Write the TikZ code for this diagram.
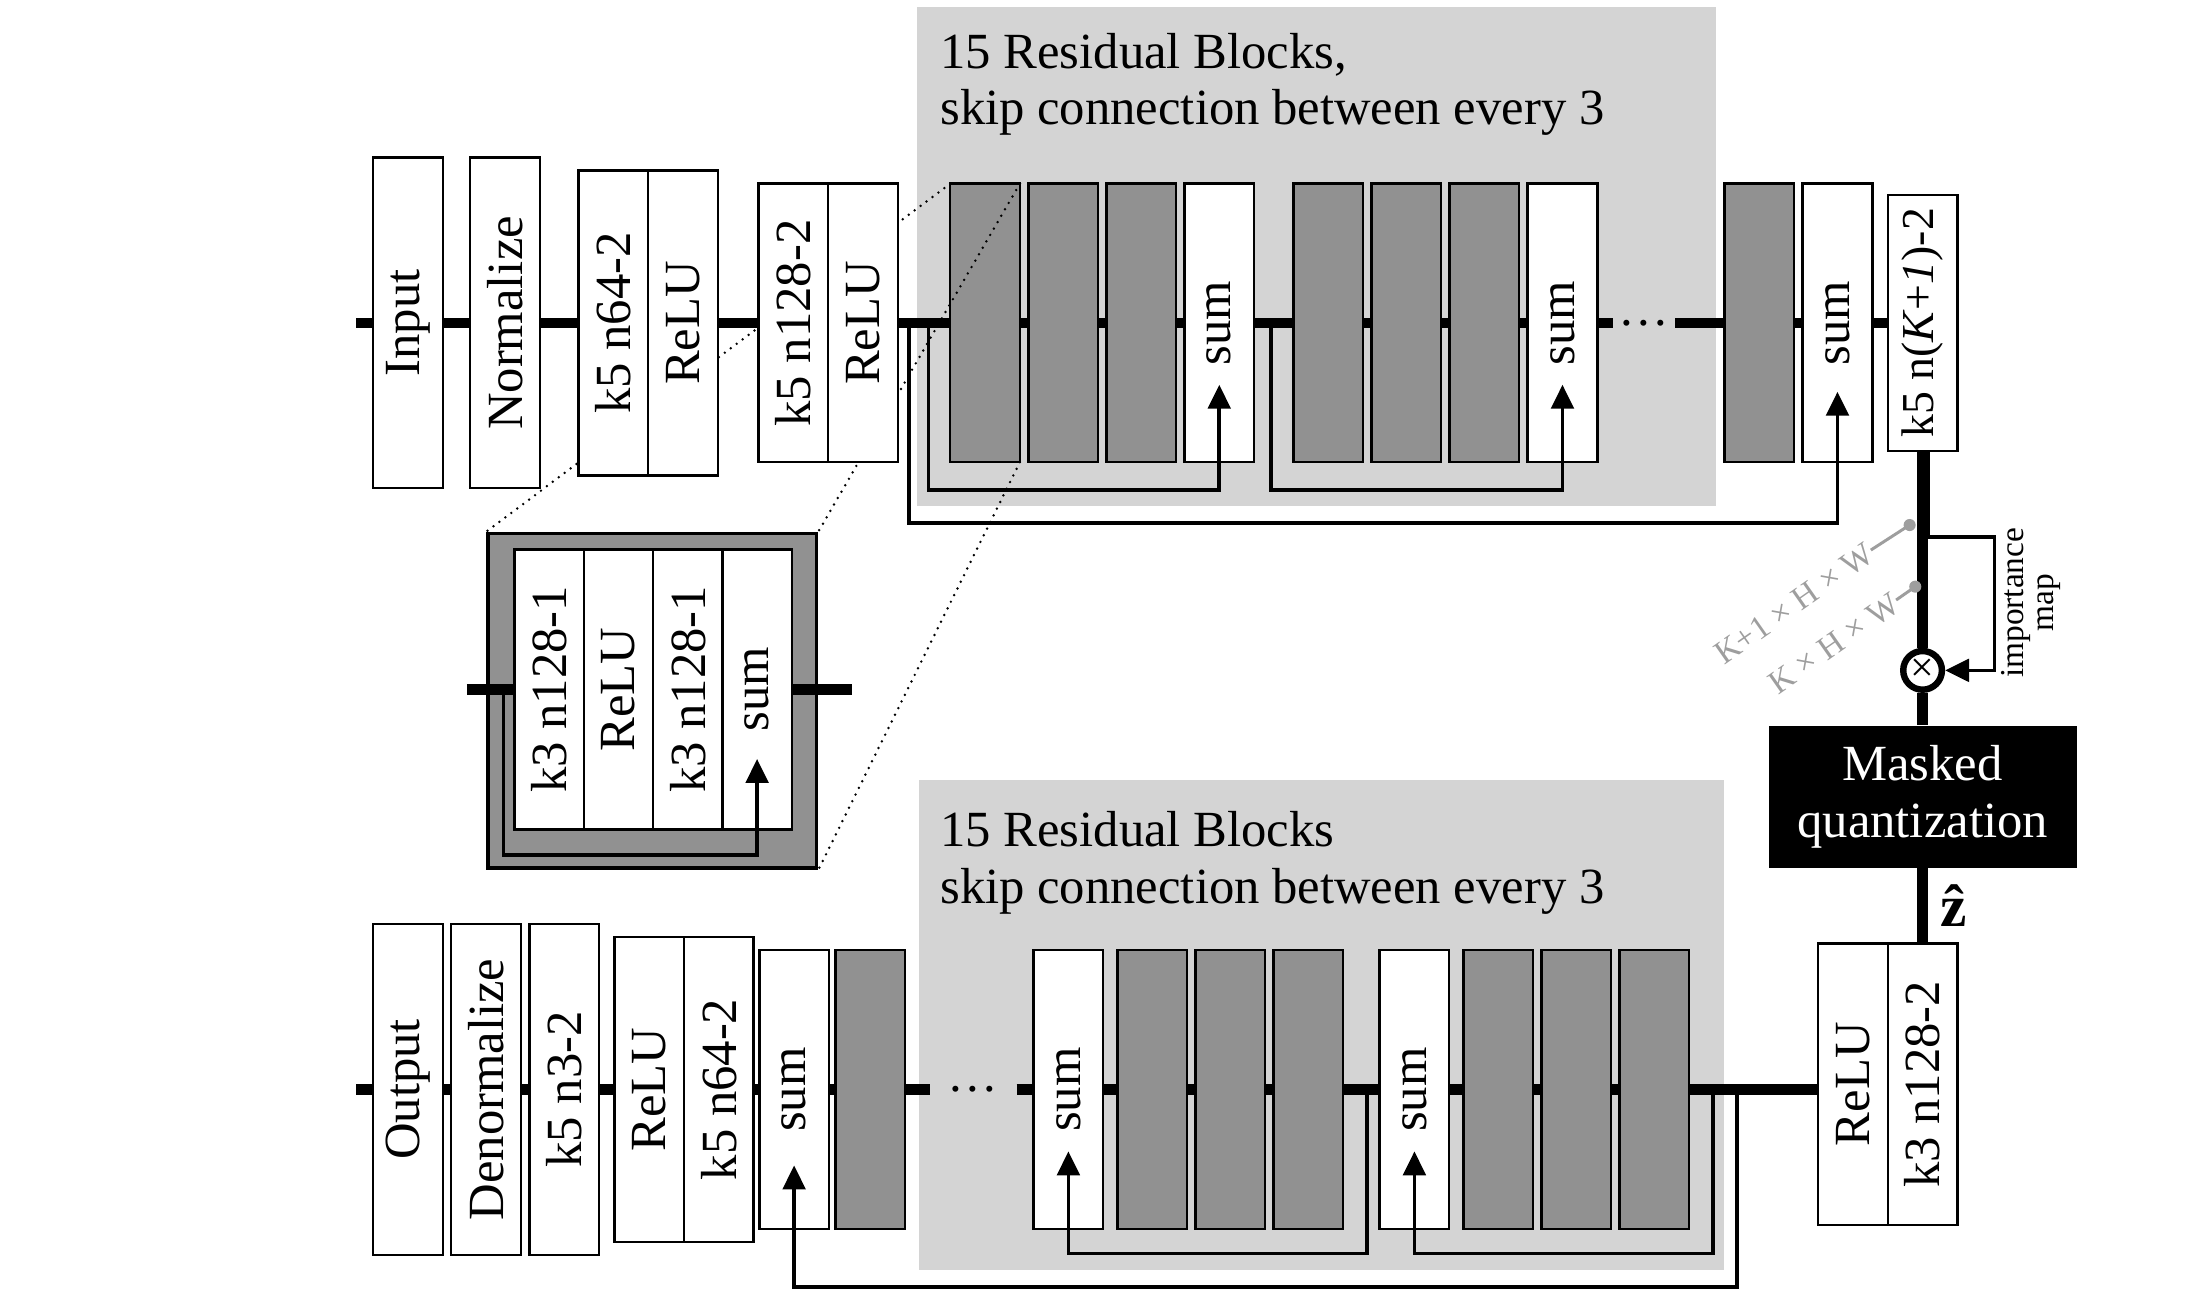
\documentclass[tikz,border=0pt]{standalone}
\usepackage{fontspec}
\setmainfont{Liberation Serif}
\usepackage{graphicx}
\usetikzlibrary{positioning,calc,arrows.meta,backgrounds}

\definecolor{regiongray}{HTML}{D4D4D4}
\definecolor{resgray}{HTML}{919191}
\definecolor{dimgray}{HTML}{9E9E9E}

\newcommand{\vlab}[1]{\rotatebox{90}{#1}}
\newcommand{\bigfont}{\fontsize{20.5}{22.8}\selectfont}

\tikzset{
  block/.style={draw, fill=white, line width=1pt, minimum width=0.99cm,
    minimum height=3.96cm, inner sep=0pt, outer sep=0pt, font=\bigfont},
  tallblock/.style={block, minimum height=4.7cm},
  midblock/.style={block, minimum height=4.34cm},
  resblock/.style={block, fill=resgray},
  insetblock/.style={block, minimum width=0.985cm, minimum height=3.98cm},
  gapdots/.style={inner sep=0pt, outer sep=0pt, font=\bigfont},
  mainline/.style={line width=4.2pt},
  skipline/.style={line width=1.5pt, -{Triangle[length=0.34cm, width=0.32cm]}},
  zoomline/.style={line width=1.1pt, line cap=round, dash pattern=on 0pt off 3pt},
  grouptitle/.style={anchor=north west, align=left, inner sep=0pt, font=\bigfont},
  maskbox/.style={fill=black, text=white, minimum width=4.38cm,
    minimum height=2.02cm, align=center, inner sep=0pt, font=\bigfont},
  multnode/.style={circle, draw, line width=2.6pt, fill=white, minimum size=0.55cm,
    inner sep=0pt, font=\fontsize{17}{17}\selectfont},
  dimlabel/.style={text=dimgray, font=\fontsize{13.5}{13.5}\selectfont,
    inner sep=0pt, rotate=35, anchor=east},
}

\begin{document}
\begin{tikzpicture}[x=0.02cm, y=0.02cm]
  \useasboundingbox (0,0) rectangle (1568,-923);

  % encoder row
  \node[tallblock] (input) at (290,-229.5) {\vlab{Input}};
  \node[tallblock, right=0.39cm of input] (norm) {\vlab{Normalize}};
  \node[midblock, right=0.55cm of norm] (enca) {\vlab{k5 n64-2}};
  \node[midblock, right=0pt of enca] (relua) {\vlab{ReLU}};
  \node[block, right=0.58cm of relua] (encb) {\vlab{k5 n128-2}};
  \node[block, right=0pt of encb] (relub) {\vlab{ReLU}};
  \node[resblock, right=0.745cm of relub] (r1) {};
  \node[resblock, right=0.12cm of r1] (r2) {};
  \node[resblock, right=0.12cm of r2] (r3) {};
  \node[block, right=0.12cm of r3] (s1) {\vlab{sum}};
  \node[resblock, right=0.56cm of s1] (r4) {};
  \node[resblock, right=0.12cm of r4] (r5) {};
  \node[resblock, right=0.12cm of r5] (r6) {};
  \node[block, right=0.12cm of r6] (s2) {\vlab{sum}};
  \node[gapdots, minimum width=0.89cm, right=0.22cm of s2] (gapa) {\dots};
  \node[resblock, right=0.7cm of gapa] (r7) {};
  \node[block, right=0.12cm of r7] (s3) {\vlab{sum}};
  \node[block, minimum height=3.64cm, right=0.22cm of s3,
    font=\fontsize{18.5}{20}\selectfont] (zconv) {\vlab{k5 n(\textit{K}+\textit{1})-2}};

  % bottleneck
  \node[multnode, below=2.8cm of zconv] (mult) {×};
  \node[maskbox, below=0.46cm of mult] (mask) {Masked\\quantization};
  \node[block, minimum height=4cm, below=1.07cm of mask] (decc) {\vlab{k3 n128-2}};
  \node[block, minimum height=4cm, left=0pt of decc] (relud) {\vlab{ReLU}};

  % decoder row
  \node[tallblock, below=6.2cm of input] (output) {\vlab{Output}};
  \node[tallblock, right=0.12cm of output] (denorm) {\vlab{Denormalize}};
  \node[tallblock, right=0.12cm of denorm] (deca) {\vlab{k5 n3-2}};
  \node[midblock, right=0.22cm of deca] (reluc) {\vlab{ReLU}};
  \node[midblock, right=0pt of reluc] (decb) {\vlab{k5 n64-2}};
  \node[block, right=0.08cm of decb] (t0) {\vlab{sum}};
  \node[resblock, right=0.09cm of t0] (d0) {};
  \node[gapdots, minimum width=1.24cm, right=0.35cm of d0] (gapb) {\dots};
  \node[block, right=0.24cm of gapb] (t1) {\vlab{sum}};
  \node[resblock, right=0.2cm of t1] (d1) {};
  \node[resblock, right=0.12cm of d1] (d2) {};
  \node[resblock, right=0.12cm of d2] (d3) {};
  \node[block, right=0.52cm of d3] (t2) {\vlab{sum}};
  \node[resblock, right=0.2cm of t2] (d4) {};
  \node[resblock, right=0.12cm of d4] (d5) {};
  \node[resblock, right=0.12cm of d5] (d6) {};

  % residual block detail
  \node[draw, fill=resgray, line width=1.4pt, minimum width=4.67cm,
    minimum height=4.76cm, inner sep=0pt] (inset) at (463.75,-498) {};
  \node[insetblock, anchor=west] (ia) at ($(inset.west)+(20,8)$) {\vlab{k3 n128-1}};
  \node[insetblock, right=0pt of ia] (ib) {\vlab{ReLU}};
  \node[insetblock, right=0pt of ib] (ic) {\vlab{k3 n128-1}};
  \node[insetblock, right=0pt of ic] (id) {\vlab{sum}};

  \node[grouptitle] (toptitle) at (668,-23) {15 Residual Blocks,\\skip connection between every 3};
  \node[grouptitle] (bottitle) at (668,-576.5) {15 Residual Blocks\\skip connection between every 3};

  \begin{scope}[on background layer]
    \fill[regiongray] (652,-5) rectangle (1219.5,-360);
    \fill[regiongray] (653,-554.5) rectangle (1225.4,-902.7);
    \draw[zoomline] (r1.north west) -- (inset.north west);
    \draw[zoomline] (r1.north east) -- (inset.north east);
    \draw[zoomline] (r1.south east) -- (inset.south east);
  \end{scope}
  \draw[zoomline] (r1.north east) -- ($(r1.north east)!0.3426!(inset.north east)$);

  % main data path
  \coordinate[left=0.24cm of input] (inlead);
  \coordinate[left=0.24cm of output] (outlead);
  \draw[mainline] (inlead) -- (input) -- (norm) -- (enca) -- (relua) -- (encb) -- (relub)
    -- (r1) -- (r2) -- (r3) -- (s1) -- (r4) -- (r5) -- (r6) -- (s2) -- (gapa)
    -- (r7) -- (s3) -- (zconv);
  \draw[mainline] (zconv) -- (mult) -- (mask) -- (decc);
  \draw[mainline] (outlead) -- (output) -- (denorm) -- (deca) -- (reluc) -- (decb)
    -- (t0) -- (d0) -- (gapb) -- (t1) -- (d1) -- (d2) -- (d3) -- (t2) -- (d4)
    -- (d5) -- (d6) -- (d6 -| relud.west);
  \coordinate (ilead) at ($(ia.west)+(-34,0)$);
  \coordinate (itail) at ($(id.east)+(43,0)$);
  \draw[mainline] (ilead) -- (ia);
  \draw[mainline] (id) -- (itail);

  % skip connections
  \draw[skipline] ([xshift=-0.31cm]r1.west) |- ([yshift=-0.4cm]s1.south) -- ([yshift=1.1cm]s1.south);
  \draw[skipline] ([xshift=-0.32cm]r4.west) |- ([yshift=-0.4cm]s2.south) -- ([yshift=1.1cm]s2.south);
  \draw[skipline] ([xshift=0.16cm]relub.east) |- ([yshift=-0.87cm]s3.south) -- ([yshift=1.0cm]s3.south);
  \draw[skipline] ([xshift=-0.18cm]t2.west) |- ([yshift=-0.35cm]t1.south) -- ([yshift=1.1cm]t1.south);
  \draw[skipline] ([xshift=0.34cm]d6.east) |- ([yshift=-0.35cm]t2.south) -- ([yshift=1.1cm]t2.south);
  \draw[skipline] ([xshift=0.68cm]d6.east) |- ([yshift=-0.83cm]t0.south) -- ([yshift=0.9cm]t0.south);
  \draw[skipline] ([xshift=-0.16cm]ia.west) |- ([yshift=-0.36cm]id.south) -- ([yshift=1.0cm]id.south);

  % importance map
  \draw[skipline] ([xshift=0.08cm]zconv.south) |- ($(mult.east)+(35,95)$) |- (mult.east);
  \node[rotate=90, align=center, inner sep=0pt, font=\fontsize{13.5}{12.5}\selectfont]
    (imp) at ($(mult.east)+(61,48)$) {importance\\map};

  % tensor sizes
  \coordinate (dima) at ($(zconv.south)+(-9.2,-52.7)$);
  \coordinate (dimb) at ($(zconv.south)+(-5.2,-96.5)$);
  \node[dimlabel] (kplus) at ($(dima)+(-27.6,-17.8)$) {K+1 × H × W};
  \node[dimlabel] (kplain) at ($(dimb)+(-13.6,-9.5)$) {K × H × W};
  \draw[dimgray, line width=1.2pt] (kplus.east) -- (dima);
  \draw[dimgray, line width=1.2pt] (kplain.east) -- (dimb);
  \fill[dimgray] (dima) circle[radius=0.086cm];
  \fill[dimgray] (dimb) circle[radius=0.086cm];

  \node[inner sep=0pt] (zhat) at ($(mask.south)!0.5!(decc.north)+(22,0)$)
    {\fontsize{24}{24}\selectfont\bfseries\^{z}};
\end{tikzpicture}
\end{document}
